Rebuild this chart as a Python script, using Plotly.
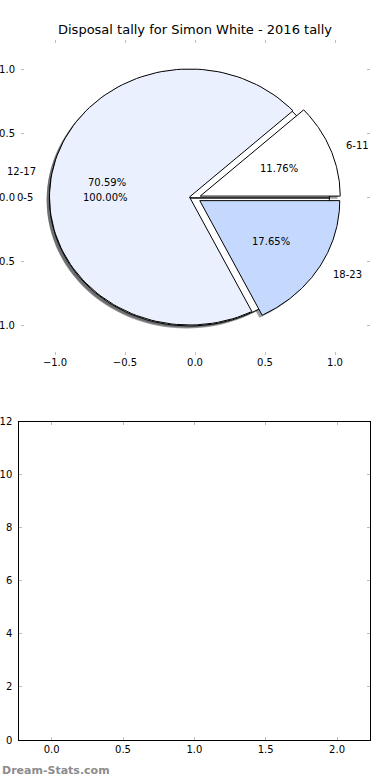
import math
import plotly.graph_objects as go

# ---- data ----
categories = ["0-5", "6-11", "12-17", "18-23"]
tally = [0, 2, 12, 3]
slice_colors = ["#ffffff", "#ffffff", "#eaf0fd", "#c5d9fe"]
total_label = "0-5"
title = "Disposal tally for Simon White - 2016 tally"
pie_ticks = [-1.0, -0.5, 0.0, 0.5, 1.0]
bar_xticks = [0.0, 0.5, 1.0, 1.5, 2.0]
bar_yticks = [0, 2, 4, 6, 8, 10, 12]

# ---- style ----
EXPLODE = 0.04
SHADOW = (-0.02, -0.02)
FONT = "DejaVu Sans"
TICKC = "#bdbdbd"

fig = go.Figure()
total = sum(tally)


def wedge(theta1, theta2, explode, n=120):
    mid = math.radians((theta1 + theta2) / 2)
    cx, cy = explode * math.cos(mid), explode * math.sin(mid)
    xs, ys = [cx], [cy]
    for i in range(n + 1):
        t = math.radians(theta1 + (theta2 - theta1) * i / n)
        xs.append(cx + math.cos(t))
        ys.append(cy + math.sin(t))
    xs.append(cx)
    ys.append(cy)
    return xs, ys, cx, cy, mid


# slices of the tally pie
slices = []
start = 0.0
for cat, v, col in zip(categories, tally, slice_colors):
    sweep = 360.0 * v / total
    if v > 0:
        slices.append((cat, v, col, start, start + sweep))
    start += sweep

full = wedge(0, 360, EXPLODE)

# shadows (drawn below everything)
shadow_shapes = [full[:2]] + [wedge(a, b, EXPLODE)[:2] for _, _, _, a, b in slices]
for xs, ys in shadow_shapes:
    fig.add_trace(go.Scatter(
        x=[x + SHADOW[0] for x in xs], y=[y + SHADOW[1] for y in ys],
        fill="toself", mode="none", fillcolor="rgba(60,62,66,0.5)",
        hoverinfo="skip", showlegend=False, xaxis="x", yaxis="y"))

# full 100% pie underneath
fig.add_trace(go.Scatter(x=full[0], y=full[1], fill="toself", mode="lines",
                         fillcolor="#ffffff", line=dict(color="black", width=1),
                         hoverinfo="skip", showlegend=False, xaxis="x", yaxis="y"))

annotations = []


def add_labels(label, pct, cx, cy, mid):
    lx, ly = cx + 1.1 * math.cos(mid), cy + 1.1 * math.sin(mid)
    px, py = cx + 0.6 * math.cos(mid), cy + 0.6 * math.sin(mid)
    annotations.append(dict(x=lx, y=ly, xref="x", yref="y", text=label, showarrow=False,
                            xanchor="left" if lx > 0 else "right", yanchor="middle",
                            font=dict(family=FONT, size=10, color="black")))
    annotations.append(dict(x=px, y=py, xref="x", yref="y", text=pct, showarrow=False,
                            xanchor="center", yanchor="middle",
                            font=dict(family=FONT, size=10, color="black")))


add_labels(total_label, "100.00%", full[2], full[3], full[4])

for cat, v, col, a, b in slices:
    xs, ys, cx, cy, mid = wedge(a, b, EXPLODE)
    fig.add_trace(go.Scatter(x=xs, y=ys, fill="toself", mode="lines",
                             fillcolor=col, line=dict(color="black", width=1),
                             hoverinfo="skip", showlegend=False, xaxis="x", yaxis="y"))
    add_labels(cat, f"{100.0 * v / total:.2f}%", cx, cy, mid)

# empty bottom axes
fig.add_trace(go.Scatter(x=[], y=[], xaxis="x2", yaxis="y2", showlegend=False))

annotations.append(dict(x=0.5, y=1 - 30 / 780, xref="paper", yref="paper", text=title,
                        showarrow=False, xanchor="center", yanchor="middle",
                        font=dict(family=FONT, size=13, color="black")))
annotations.append(dict(x=0, y=1 - 770 / 780, xref="paper", yref="paper",
                        text="<b>Dream-Stats.com</b>", showarrow=False,
                        xanchor="left", yanchor="middle",
                        font=dict(family=FONT, size=11, color="#8c8c8c")))

tick_common = dict(ticks="inside", ticklen=3, tickwidth=1, tickcolor=TICKC,
                   showgrid=False, zeroline=False,
                   tickfont=dict(family=FONT, size=10, color="black"))

fig.update_layout(
    width=390, height=780, margin=dict(l=0, r=0, t=0, b=0),
    paper_bgcolor="white", plot_bgcolor="white", template="none",
    showlegend=False, annotations=annotations,
    xaxis=dict(domain=[21 / 390, 370 / 390], range=[-1.243, 1.25], anchor="y",
               tickvals=pie_ticks, tickformat=".1f", showline=False, mirror="ticks",
               **tick_common),
    yaxis=dict(domain=[1 - 355 / 780, 1 - 40 / 780], range=[-1.227, 1.234], anchor="x",
               tickvals=pie_ticks, tickformat=".1f", showline=False, mirror="ticks",
               ticklabelstandoff=5, **tick_common),
    xaxis2=dict(domain=[19.3 / 390, 370.3 / 390], range=[-0.227, 2.233], anchor="y2",
                tickvals=bar_xticks, tickformat=".1f", showline=True, linecolor="black",
                linewidth=1, mirror="ticks", **tick_common),
    yaxis2=dict(domain=[1 - 740 / 780, 1 - 421.7 / 780], range=[0, 12], anchor="x2",
                tickvals=bar_yticks, tickformat="d", showline=True, linecolor="black",
                linewidth=1, mirror="ticks", ticklabelstandoff=4, **tick_common),
)

fig.write_html("out.html", config={"displayModeBar": False},
               post_script="document.body.style.margin='0';")
